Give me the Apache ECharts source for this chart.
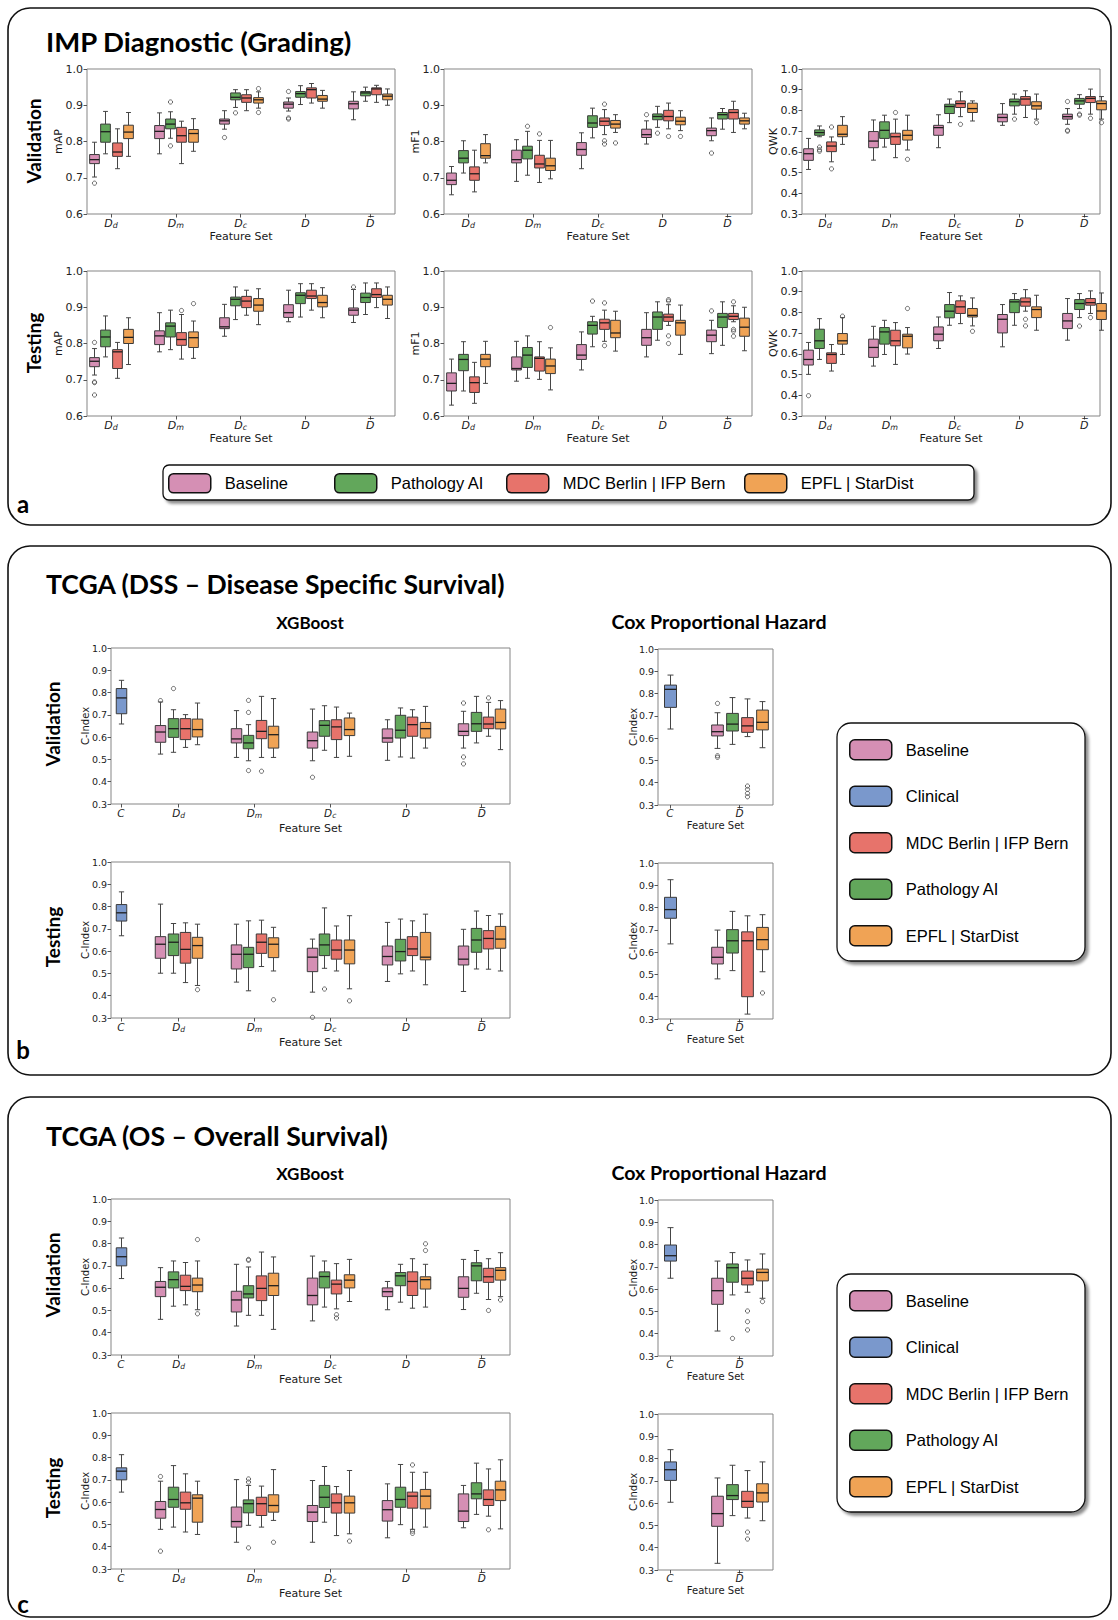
<!DOCTYPE html>
<html>
<head>
<meta charset="utf-8">
<title>IMP / TCGA benchmark boxplots</title>
<script src="https://cdn.jsdelivr.net/npm/echarts@6/dist/echarts.min.js"></script>
<style>
html,body{margin:0;padding:0;background:#ffffff;}
#chart{width:1118px;height:1620px;}
</style>
</head>
<body>
<div id="chart"></div>
<script>
// ---------------- categories / tick labels ----------------
const featureSets = ['Dd', 'Dm', 'Dc', 'D', 'Dbar'];
const clinicalSet = ['C'];
const coxSet = ['Dbar'];
const gradingModels = ['Baseline', 'Pathology AI', 'MDC Berlin | IFP Bern', 'EPFL | StarDist'];
const survivalLegend = ['Baseline', 'Clinical', 'MDC Berlin | IFP Bern', 'Pathology AI', 'EPFL | StarDist'];

// each entry: [min, q1, median, q3, max, [outliers]]
// ---------------- (a) IMP Diagnostic – Validation ----------------
const aValMapBaseline = [[0.702,0.739,0.750,0.764,0.798,[0.685]],[0.766,0.808,0.828,0.844,0.879,[]],[0.834,0.848,0.857,0.862,0.885,[0.811]],[0.884,0.892,0.903,0.909,0.920,[0.938,0.865,0.862]],[0.860,0.890,0.904,0.911,0.937,[]]];
const aValMapPathAI   = [[0.766,0.798,0.827,0.848,0.883,[]],[0.809,0.835,0.848,0.862,0.882,[0.909,0.788]],[0.894,0.915,0.922,0.934,0.943,[0.879]],[0.902,0.922,0.932,0.938,0.954,[]],[0.911,0.926,0.934,0.938,0.950,[]]];
const aValMapMDC      = [[0.725,0.759,0.771,0.796,0.835,[]],[0.739,0.798,0.816,0.839,0.856,[]],[0.885,0.908,0.920,0.929,0.943,[]],[0.906,0.920,0.943,0.948,0.960,[]],[0.908,0.929,0.945,0.948,0.955,[]]];
const aValMapEPFL     = [[0.759,0.808,0.826,0.845,0.880,[]],[0.773,0.798,0.822,0.833,0.863,[]],[0.892,0.906,0.915,0.921,0.937,[0.946,0.880]],[0.892,0.911,0.917,0.927,0.941,[]],[0.900,0.915,0.925,0.931,0.945,[]]];

const aValMf1Baseline = [[0.653,0.681,0.693,0.713,0.731,[]],[0.690,0.741,0.750,0.776,0.805,[]],[0.725,0.762,0.778,0.797,0.824,[]],[0.793,0.811,0.819,0.834,0.857,[0.874]],[0.802,0.816,0.830,0.837,0.865,[0.768]]];
const aValMf1PathAI   = [[0.713,0.741,0.754,0.775,0.802,[]],[0.707,0.752,0.776,0.787,0.828,[0.842]],[0.810,0.839,0.851,0.871,0.892,[]],[0.839,0.860,0.869,0.876,0.897,[0.823]],[0.834,0.862,0.874,0.880,0.891,[]]];
const aValMf1MDC      = [[0.661,0.693,0.711,0.730,0.776,[]],[0.687,0.727,0.738,0.762,0.803,[0.821]],[0.819,0.844,0.856,0.865,0.888,[0.903,0.802,0.793]],[0.835,0.857,0.869,0.886,0.906,[0.814]],[0.825,0.862,0.880,0.888,0.911,[]]];
const aValMf1EPFL     = [[0.741,0.754,0.761,0.794,0.819,[]],[0.697,0.720,0.733,0.754,0.803,[]],[0.825,0.837,0.848,0.858,0.874,[0.796]],[0.830,0.846,0.856,0.867,0.885,[0.814]],[0.835,0.848,0.857,0.865,0.878,[]]];

const aValQwkBaseline = [[0.515,0.559,0.591,0.615,0.665,[]],[0.560,0.620,0.652,0.698,0.754,[]],[0.620,0.680,0.717,0.728,0.779,[]],[0.728,0.745,0.766,0.782,0.833,[]],[0.733,0.758,0.770,0.782,0.809,[0.843,0.704,0.700]]];
const aValQwkPathAI   = [[0.673,0.680,0.693,0.706,0.725,[0.623,0.610,0.603]],[0.623,0.665,0.704,0.745,0.777,[]],[0.741,0.785,0.819,0.830,0.855,[]],[0.782,0.822,0.842,0.855,0.879,[0.758]],[0.809,0.830,0.846,0.858,0.876,[0.782,0.777]]];
const aValQwkMDC      = [[0.552,0.601,0.628,0.648,0.672,[0.720,0.518]],[0.572,0.636,0.673,0.690,0.758,[0.790]],[0.770,0.814,0.833,0.846,0.890,[0.733]],[0.766,0.825,0.855,0.867,0.895,[]],[0.782,0.838,0.858,0.867,0.903,[0.762]]];
const aValQwkEPFL     = [[0.636,0.673,0.685,0.728,0.770,[]],[0.609,0.657,0.680,0.704,0.777,[0.564]],[0.749,0.790,0.809,0.835,0.846,[]],[0.758,0.806,0.822,0.842,0.879,[0.741]],[0.758,0.803,0.833,0.846,0.867,[0.741]]];

// ---------------- (a) IMP Diagnostic – Testing ----------------
const aTestMapBaseline = [[0.713,0.736,0.751,0.761,0.786,[0.803,0.694,0.692,0.658]],[0.777,0.797,0.821,0.835,0.885,[]],[0.820,0.841,0.846,0.871,0.908,[]],[0.860,0.872,0.885,0.907,0.947,[]],[0.858,0.878,0.892,0.898,0.949,[0.956]]];
const aTestMapPathAI   = [[0.763,0.791,0.818,0.837,0.876,[]],[0.783,0.818,0.848,0.857,0.892,[]],[0.866,0.904,0.922,0.928,0.956,[]],[0.873,0.910,0.933,0.940,0.965,[]],[0.880,0.913,0.927,0.939,0.967,[]]];
const aTestMapMDC      = [[0.704,0.731,0.777,0.783,0.803,[]],[0.757,0.795,0.811,0.830,0.880,[0.891]],[0.878,0.899,0.917,0.930,0.947,[]],[0.892,0.924,0.931,0.947,0.965,[]],[0.899,0.927,0.935,0.951,0.967,[]]];
const aTestMapEPFL     = [[0.742,0.800,0.817,0.839,0.871,[]],[0.759,0.789,0.816,0.832,0.862,[0.910]],[0.852,0.889,0.906,0.924,0.951,[]],[0.871,0.901,0.913,0.933,0.954,[]],[0.869,0.906,0.922,0.933,0.956,[]]];

const aTestMf1Baseline = [[0.630,0.669,0.690,0.719,0.757,[]],[0.696,0.727,0.731,0.763,0.806,[]],[0.727,0.756,0.768,0.797,0.832,[]],[0.763,0.795,0.816,0.839,0.885,[]],[0.772,0.805,0.823,0.837,0.864,[0.890]]];
const aTestMf1PathAI   = [[0.669,0.725,0.756,0.770,0.805,[]],[0.704,0.734,0.768,0.789,0.821,[]],[0.791,0.826,0.850,0.860,0.875,[0.917]],[0.809,0.839,0.873,0.887,0.915,[]],[0.795,0.844,0.873,0.883,0.915,[]]];
const aTestMf1MDC      = [[0.635,0.665,0.692,0.708,0.748,[]],[0.701,0.724,0.759,0.763,0.805,[]],[0.806,0.839,0.857,0.867,0.892,[0.912,0.794]],[0.850,0.861,0.873,0.881,0.907,[0.921,0.917,0.821,0.800]],[0.860,0.866,0.875,0.883,0.904,[0.915,0.839,0.834,0.820]]];
const aTestMf1EPFL     = [[0.690,0.736,0.757,0.770,0.806,[]],[0.672,0.717,0.738,0.757,0.788,[0.844]],[0.779,0.816,0.829,0.864,0.889,[]],[0.770,0.823,0.857,0.864,0.906,[]],[0.780,0.820,0.845,0.870,0.900,[]]];

const aTestQwkBaseline = [[0.501,0.546,0.573,0.618,0.655,[0.398]],[0.541,0.583,0.631,0.671,0.733,[]],[0.626,0.663,0.695,0.730,0.778,[]],[0.634,0.701,0.767,0.790,0.838,[]],[0.666,0.722,0.759,0.795,0.867,[]]];
const aTestQwkPathAI   = [[0.573,0.626,0.663,0.719,0.770,[]],[0.597,0.647,0.706,0.727,0.762,[]],[0.738,0.774,0.806,0.838,0.896,[]],[0.738,0.799,0.851,0.862,0.891,[]],[0.775,0.814,0.843,0.862,0.891,[0.734]]];
const aTestQwkMDC      = [[0.517,0.554,0.597,0.605,0.645,[]],[0.549,0.639,0.663,0.714,0.751,[]],[0.746,0.795,0.827,0.856,0.880,[]],[0.806,0.830,0.851,0.870,0.910,[0.767,0.735]],[0.795,0.835,0.847,0.867,0.904,[0.775]]];
const aTestQwkEPFL     = [[0.597,0.647,0.663,0.698,0.775,[0.782]],[0.599,0.629,0.685,0.695,0.727,[0.819]],[0.735,0.778,0.786,0.819,0.870,[0.709]],[0.714,0.775,0.814,0.827,0.883,[]],[0.714,0.766,0.807,0.843,0.894,[]]];

// ---------------- (b) TCGA DSS ----------------
const bValXgbClinical = [[0.659,0.705,0.776,0.818,0.855,[]]];
const bValXgbBaseline = [[0.524,0.577,0.623,0.652,0.758,[0.764]],[0.509,0.574,0.592,0.638,0.719,[]],[0.494,0.551,0.584,0.623,0.726,[0.420]],[0.496,0.577,0.596,0.637,0.678,[]],[0.551,0.607,0.626,0.660,0.716,[0.753,0.511,0.480]]];
const bValXgbPathAI   = [[0.532,0.599,0.638,0.683,0.723,[0.818]],[0.494,0.548,0.574,0.608,0.656,[0.765,0.711,0.450]],[0.541,0.604,0.653,0.674,0.741,[]],[0.511,0.596,0.631,0.698,0.731,[]],[0.574,0.626,0.660,0.711,0.783,[]]];
const bValXgbMDC      = [[0.554,0.589,0.638,0.683,0.701,[]],[0.509,0.593,0.626,0.675,0.783,[0.447]],[0.509,0.589,0.646,0.678,0.735,[]],[0.506,0.604,0.656,0.690,0.723,[]],[0.604,0.638,0.659,0.690,0.756,[0.776]]];
const bValXgbEPFL     = [[0.566,0.601,0.634,0.681,0.753,[]],[0.509,0.551,0.611,0.649,0.773,[]],[0.514,0.607,0.634,0.686,0.708,[]],[0.551,0.596,0.638,0.666,0.738,[]],[0.544,0.637,0.666,0.726,0.764,[]]];

const bTestXgbClinical = [[0.669,0.735,0.772,0.809,0.866,[]]];
const bTestXgbBaseline = [[0.501,0.568,0.631,0.665,0.811,[]],[0.461,0.520,0.586,0.628,0.721,[]],[0.416,0.508,0.573,0.613,0.654,[0.303]],[0.464,0.538,0.576,0.623,0.729,[]],[0.419,0.538,0.564,0.623,0.698,[]]];
const bTestXgbPathAI   = [[0.501,0.580,0.640,0.677,0.724,[]],[0.422,0.526,0.586,0.617,0.736,[]],[0.523,0.580,0.628,0.677,0.794,[0.430]],[0.498,0.556,0.598,0.653,0.744,[]],[0.520,0.595,0.650,0.702,0.780,[]]];
const bTestXgbMDC      = [[0.459,0.546,0.608,0.684,0.727,[]],[0.531,0.590,0.640,0.677,0.739,[]],[0.511,0.564,0.605,0.650,0.713,[]],[0.511,0.580,0.610,0.665,0.736,[]],[0.519,0.610,0.657,0.692,0.760,[]]];
const bTestXgbEPFL     = [[0.446,0.568,0.625,0.662,0.721,[0.427]],[0.511,0.571,0.631,0.660,0.707,[0.382]],[0.431,0.543,0.605,0.650,0.759,[0.377]],[0.449,0.561,0.573,0.684,0.766,[]],[0.511,0.613,0.654,0.711,0.767,[]]];

const bValCoxClinical = [[0.641,0.738,0.819,0.838,0.883,[]]];
const bValCoxBaseline = [[0.554,0.610,0.629,0.659,0.714,[0.756,0.521,0.514]]];
const bValCoxPathAI   = [[0.572,0.632,0.663,0.711,0.782,[]]];
const bValCoxMDC      = [[0.607,0.626,0.655,0.692,0.776,[0.385,0.370,0.352,0.337]]];
const bValCoxEPFL     = [[0.557,0.637,0.671,0.726,0.764,[]]];

const bTestCoxClinical = [[0.637,0.752,0.791,0.846,0.925,[]]];
const bTestCoxBaseline = [[0.480,0.547,0.577,0.622,0.699,[]]];
const bTestCoxPathAI   = [[0.517,0.596,0.651,0.701,0.783,[]]];
const bTestCoxMDC      = [[0.322,0.400,0.651,0.691,0.763,[]]];
const bTestCoxEPFL     = [[0.512,0.611,0.656,0.711,0.768,[0.417]]];

// ---------------- (c) TCGA OS ----------------
const cValXgbClinical = [[0.643,0.700,0.741,0.781,0.825,[]]];
const cValXgbBaseline = [[0.460,0.562,0.604,0.630,0.692,[]],[0.430,0.493,0.547,0.586,0.707,[]],[0.453,0.525,0.567,0.645,0.744,[]],[0.503,0.562,0.584,0.601,0.630,[]],[0.504,0.559,0.599,0.651,0.729,[]]];
const cValXgbPathAI   = [[0.519,0.601,0.638,0.673,0.722,[]],[0.478,0.556,0.574,0.611,0.695,[0.729,0.725]],[0.515,0.601,0.652,0.673,0.722,[]],[0.537,0.611,0.655,0.670,0.707,[]],[0.577,0.633,0.700,0.714,0.769,[]]];
const cValXgbMDC      = [[0.525,0.589,0.608,0.658,0.715,[]],[0.478,0.544,0.599,0.655,0.762,[]],[0.507,0.574,0.618,0.636,0.710,[0.481,0.466]],[0.510,0.567,0.630,0.673,0.732,[]],[0.549,0.626,0.651,0.689,0.732,[0.500]]];
const cValXgbEPFL     = [[0.503,0.584,0.614,0.645,0.722,[0.818,0.485]],[0.415,0.567,0.611,0.667,0.740,[]],[0.540,0.601,0.636,0.660,0.729,[]],[0.515,0.596,0.638,0.651,0.707,[0.799,0.769]],[0.562,0.636,0.680,0.692,0.759,[0.547]]];

const cTestXgbClinical = [[0.645,0.700,0.739,0.754,0.813,[]]];
const cTestXgbBaseline = [[0.478,0.528,0.567,0.603,0.694,[0.715,0.380]],[0.420,0.488,0.513,0.578,0.701,[]],[0.420,0.513,0.555,0.585,0.697,[]],[0.440,0.515,0.566,0.607,0.682,[]],[0.485,0.513,0.560,0.637,0.675,[]]];
const cTestXgbPathAI   = [[0.488,0.577,0.612,0.667,0.764,[]],[0.496,0.552,0.593,0.610,0.675,[0.704,0.690,0.395]],[0.510,0.576,0.622,0.675,0.760,[]],[0.499,0.577,0.612,0.667,0.769,[]],[0.545,0.615,0.637,0.687,0.775,[]]];
const cTestXgbMDC      = [[0.466,0.568,0.597,0.645,0.727,[]],[0.488,0.540,0.593,0.622,0.672,[]],[0.450,0.551,0.597,0.637,0.670,[]],[0.478,0.573,0.627,0.645,0.734,[0.779,0.767,0.470,0.460]],[0.537,0.585,0.612,0.655,0.749,[0.476]]];
const cTestXgbEPFL     = [[0.455,0.510,0.618,0.633,0.694,[]],[0.518,0.555,0.585,0.633,0.746,[0.420]],[0.458,0.551,0.597,0.627,0.742,[0.425]],[0.488,0.570,0.627,0.657,0.734,[]],[0.480,0.607,0.655,0.694,0.790,[]]];

const cValCoxClinical = [[0.649,0.726,0.750,0.798,0.876,[]]];
const cValCoxBaseline = [[0.412,0.532,0.593,0.649,0.726,[]]];
const cValCoxPathAI   = [[0.574,0.631,0.696,0.713,0.764,[0.379]]];
const cValCoxMDC      = [[0.586,0.619,0.649,0.681,0.731,[0.502,0.454,0.417]]];
const cValCoxEPFL     = [[0.559,0.637,0.675,0.690,0.758,[0.544]]];

const cTestCoxClinical = [[0.604,0.702,0.750,0.785,0.840,[]]];
const cTestCoxBaseline = [[0.330,0.496,0.553,0.631,0.713,[]]];
const cTestCoxPathAI   = [[0.544,0.616,0.634,0.683,0.770,[]]];
const cTestCoxMDC      = [[0.533,0.581,0.608,0.653,0.746,[0.470,0.439]]];
const cTestCoxEPFL     = [[0.521,0.605,0.646,0.687,0.785,[]]];

// ---------------- styling ----------------
const modelColors = {
  'Baseline': '#d58fb4',
  'Clinical': '#7a98cc',
  'MDC Berlin | IFP Bern': '#e7736b',
  'Pathology AI': '#62a75b',
  'EPFL | StarDist': '#f0a355'
};
const FONT = 'DejaVu Sans';
const TITLE_FONT = 'Lato';
const LEGEND_FONT = 'Liberation Sans';

const catRich = {
  C: '{i|C}', Dd: '{i|D}{s|d}', Dm: '{i|D}{s|m}', Dc: '{i|D}{s|c}', D: '{i|D}', Dbar: '{i|D\u0305}'
};

const option = {
  animation: false,
  backgroundColor: '#ffffff',
  textStyle: { fontFamily: FONT },
  grid: [], xAxis: [], yAxis: [], series: [], legend: [], graphic: []
};

function boxRenderer(src, slot, nSlots, pitch, boxW, color) {
  return function (params, api) {
    const cat = api.value(0);
    const px = api.coord([cat, api.value(3)]);
    const cx = Math.round(px[0] + (slot - (nSlots - 1) / 2) * pitch) + 0.5;
    const yy = v => api.coord([cat, v])[1];
    const yMin = yy(api.value(1)), yQ1 = yy(api.value(2)), yMed = yy(api.value(3));
    const yQ3 = yy(api.value(4)), yMax = yy(api.value(5));
    const half = boxW / 2, cap = boxW / 4;
    const ls = { stroke: '#454545', lineWidth: 1 };
    const kids = [
      { type: 'line', shape: { x1: cx, y1: yQ1, x2: cx, y2: yMin }, style: ls },
      { type: 'line', shape: { x1: cx, y1: yQ3, x2: cx, y2: yMax }, style: ls },
      { type: 'line', shape: { x1: cx - cap, y1: yMin, x2: cx + cap, y2: yMin }, style: ls },
      { type: 'line', shape: { x1: cx - cap, y1: yMax, x2: cx + cap, y2: yMax }, style: ls },
      { type: 'rect', shape: { x: cx - half, y: yQ3, width: boxW, height: yQ1 - yQ3 },
        style: { fill: color, stroke: '#3a3a3a', lineWidth: 1 } },
      { type: 'line', shape: { x1: cx - half, y1: yMed, x2: cx + half, y2: yMed },
        style: { stroke: '#1e1e1e', lineWidth: 1.3 } }
    ];
    (src[params.dataIndex][5] || []).forEach(v => {
      kids.push({ type: 'circle', shape: { cx: cx, cy: yy(v), r: 2.1 },
        style: { fill: 'none', stroke: '#555', lineWidth: 0.9 } });
    });
    return { type: 'group', children: kids };
  };
}

function addFrame(f) {
  const gi = option.grid.length;
  option.grid.push({ left: f.left, top: f.top, width: f.width, height: f.height, show: true,
    borderColor: '#858585', borderWidth: 1, backgroundColor: 'rgba(0,0,0,0)', outerBoundsMode: 'none' });
  option.xAxis.push({ gridIndex: gi, type: 'value', min: 0, max: 1,
    axisLine: { show: false }, axisTick: { show: false }, axisLabel: { show: false }, splitLine: { show: false },
    name: 'Feature Set', nameLocation: 'middle', nameGap: f.xNameGap, nameMoveOverlap: false,
    nameTextStyle: { fontSize: f.nameSize, color: '#1a1a1a', fontFamily: FONT, lineHeight: f.nameSize + 1 } });
  option.yAxis.push({ gridIndex: gi, type: 'value', min: f.yMin, max: 1.0, interval: 0.1,
    axisLine: { show: false }, axisTick: { show: true, length: 3.5, lineStyle: { color: '#555', width: 1 } },
    axisLabel: { fontSize: f.tickSize, color: '#222', margin: 4, fontFamily: FONT, formatter: v => v.toFixed(1) },
    splitLine: { show: false },
    name: f.yName, nameLocation: 'middle', nameGap: f.yNameGap, nameMoveOverlap: false,
    nameTextStyle: { fontSize: f.ySize, color: '#1a1a1a', fontFamily: FONT } });
}

function addGroup(f, g) {
  const gi = option.grid.length;
  const n = g.cats.length;
  option.grid.push({ left: g.first - g.spacing / 2, top: f.top, width: g.spacing * n, height: f.height,
    show: false, outerBoundsMode: 'none' });
  const xi = option.xAxis.length;
  const cs = f.catSize;
  option.xAxis.push({ gridIndex: gi, type: 'category', data: g.cats, boundaryGap: true,
    axisLine: { show: false },
    axisTick: { show: true, alignWithLabel: true, length: 3.5, lineStyle: { color: '#555', width: 1 } },
    axisLabel: { interval: 0, margin: f.labelMargin, formatter: v => catRich[v],
      rich: {
        i: { fontStyle: 'italic', fontSize: cs, fontFamily: FONT, color: '#222', lineHeight: f.catLH },
        s: { fontStyle: 'italic', fontSize: cs * 0.72, fontFamily: FONT, color: '#222', lineHeight: cs * 0.72, verticalAlign: 'bottom' }
      } },
    splitLine: { show: false } });
  const yi = option.yAxis.length;
  option.yAxis.push({ gridIndex: gi, type: 'value', min: f.yMin, max: 1.0, show: false });
  g.series.forEach(s => {
    const color = modelColors[s.name];
    option.series.push({
      type: 'custom', name: s.name, coordinateSystem: 'cartesian2d', xAxisIndex: xi, yAxisIndex: yi,
      itemStyle: { color: color }, encode: { x: 0, y: [1, 2, 3, 4, 5] },
      data: s.data.map((d, i) => [i, d[0], d[1], d[2], d[3], d[4]]),
      renderItem: boxRenderer(s.data, s.slot, s.nSlots, f.pitch, s.boxW || f.boxW, color)
    });
  });
}

// ---------------- panel (a) ----------------
const gradingStyle = { pitch: 11.3, boxW: 9.7, tickSize: 11, nameSize: 11, ySize: 11, catSize: 11, catLH: 12,
  xNameGap: 16.5, yNameGap: 23, labelMargin: 3 };
const gradingPlots = [
  { left: 87,  top: 69,  width: 308, first: 111,   yName: 'mAP', yMin: 0.6, sets: [aValMapBaseline, aValMapPathAI, aValMapMDC, aValMapEPFL] },
  { left: 444, top: 69,  width: 308, first: 468.3, yName: 'mF1', yMin: 0.6, sets: [aValMf1Baseline, aValMf1PathAI, aValMf1MDC, aValMf1EPFL] },
  { left: 802, top: 69,  width: 298, first: 825,   yName: 'QWK', yMin: 0.3, sets: [aValQwkBaseline, aValQwkPathAI, aValQwkMDC, aValQwkEPFL] },
  { left: 87,  top: 271, width: 308, first: 111,   yName: 'mAP', yMin: 0.6, sets: [aTestMapBaseline, aTestMapPathAI, aTestMapMDC, aTestMapEPFL] },
  { left: 444, top: 271, width: 308, first: 468.3, yName: 'mF1', yMin: 0.6, sets: [aTestMf1Baseline, aTestMf1PathAI, aTestMf1MDC, aTestMf1EPFL] },
  { left: 802, top: 271, width: 298, first: 825,   yName: 'QWK', yMin: 0.3, sets: [aTestQwkBaseline, aTestQwkPathAI, aTestQwkMDC, aTestQwkEPFL] }
];
gradingPlots.forEach(p => {
  const f = Object.assign({}, gradingStyle, { left: p.left, top: p.top, width: p.width, height: 145, yName: p.yName, yMin: p.yMin });
  addFrame(f);
  addGroup(f, { cats: featureSets, first: p.first, spacing: 64.8,
    series: p.sets.map((d, k) => ({ name: gradingModels[k], data: d, slot: k, nSlots: 4 })) });
});

// ---------------- panels (b) and (c) ----------------
const xgbStyle = { pitch: 12.4, boxW: 10.5, tickSize: 9.5, nameSize: 11, ySize: 10, catSize: 10.5, catLH: 12,
  xNameGap: 18.5, yNameGap: 21, labelMargin: 3 };
const coxStyle = { pitch: 15, boxW: 11.7, tickSize: 9.5, nameSize: 10, ySize: 10, catSize: 10.5, catLH: 11,
  xNameGap: 14.5, yNameGap: 20, labelMargin: 2 };

const survivalPlots = [
  { top: 648,  xgb: [bValXgbClinical, bValXgbBaseline, bValXgbPathAI, bValXgbMDC, bValXgbEPFL],
               cox: [bValCoxClinical, bValCoxBaseline, bValCoxPathAI, bValCoxMDC, bValCoxEPFL] },
  { top: 862,  xgb: [bTestXgbClinical, bTestXgbBaseline, bTestXgbPathAI, bTestXgbMDC, bTestXgbEPFL],
               cox: [bTestCoxClinical, bTestCoxBaseline, bTestCoxPathAI, bTestCoxMDC, bTestCoxEPFL] },
  { top: 1199, xgb: [cValXgbClinical, cValXgbBaseline, cValXgbPathAI, cValXgbMDC, cValXgbEPFL],
               cox: [cValCoxClinical, cValCoxBaseline, cValCoxPathAI, cValCoxMDC, cValCoxEPFL] },
  { top: 1413, xgb: [cTestXgbClinical, cTestXgbBaseline, cTestXgbPathAI, cTestXgbMDC, cTestXgbEPFL],
               cox: [cTestCoxClinical, cTestCoxBaseline, cTestCoxPathAI, cTestCoxMDC, cTestCoxEPFL] }
];
survivalPlots.forEach(p => {
  const fx = Object.assign({}, xgbStyle, { left: 111, top: p.top, width: 399, height: 156, yName: 'C-Index', yMin: 0.3 });
  addFrame(fx);
  addGroup(fx, { cats: clinicalSet, first: 121, spacing: 20,
    series: [{ name: 'Clinical', data: p.xgb[0], slot: 0, nSlots: 1 }] });
  addGroup(fx, { cats: featureSets, first: 178.7, spacing: 75.75,
    series: p.xgb.slice(1).map((d, k) => ({ name: gradingModels[k], data: d, slot: k, nSlots: 4 })) });

  const fc = Object.assign({}, coxStyle, { left: 658, top: p.top + 1, width: 115, height: 156, yName: 'C-Index', yMin: 0.3 });
  addFrame(fc);
  addGroup(fc, { cats: clinicalSet, first: 670, spacing: 20,
    series: [{ name: 'Clinical', data: p.cox[0], slot: 0, nSlots: 1, boxW: 12 }] });
  addGroup(fc, { cats: coxSet, first: 739.5, spacing: 20,
    series: p.cox.slice(1).map((d, k) => ({ name: gradingModels[k], data: d, slot: k, nSlots: 4 })) });
});

// ---------------- legends ----------------
const legendText = { fontFamily: LEGEND_FONT, fontSize: 16.5, color: '#000', padding: [0, 0, 0, 9], lineHeight: 20 };
[168, 334, 506, 744].forEach((x, k) => {
  option.legend.push({ data: [gradingModels[k]], left: x, top: 473, padding: 0, itemWidth: 42, itemHeight: 19,
    icon: 'roundRect', selectedMode: false, textStyle: legendText,
    itemStyle: { borderColor: '#111', borderWidth: 1.5 } });
});
[739, 1290].forEach(t => {
  option.legend.push({ data: survivalLegend, left: 849, top: t, orient: 'vertical', padding: 0,
    itemWidth: 42, itemHeight: 20, itemGap: 25, icon: 'roundRect', selectedMode: false,
    textStyle: legendText, itemStyle: { borderColor: '#111', borderWidth: 1.5 } });
});

// ---------------- decorations (frames, titles) ----------------
const g = option.graphic;
function panelBox(y, h) {
  g.push({ type: 'rect', z: 0, shape: { x: 8, y: y, width: 1103, height: h, r: 22 },
    style: { fill: 'none', stroke: '#111', lineWidth: 1.6 } });
}
panelBox(8, 517); panelBox(546, 529); panelBox(1097, 520);
function legendBox(x, y, w, h, r) {
  g.push({ type: 'rect', z: 1, shape: { x: x, y: y, width: w, height: h, r: r },
    style: { fill: '#fff', stroke: '#111', lineWidth: 1.3, shadowBlur: 3, shadowOffsetX: 3, shadowOffsetY: 3,
      shadowColor: 'rgba(0,0,0,0.45)' } });
}
legendBox(163, 465, 811, 35, 6);
legendBox(837, 723, 248, 238, 14);
legendBox(837, 1274, 248, 238, 14);

function text(t, x, y, size, opts) {
  g.push(Object.assign({ type: 'text', z: 5, x: x, y: y,
    style: { text: t, font: 'bold ' + size + 'px ' + TITLE_FONT, fill: '#000',
      textAlign: (opts && opts.align) || 'left', textVerticalAlign: 'middle' } }, (opts && opts.extra) || {}));
}
text('IMP Diagnostic (Grading)', 46, 41, 27.5);
text('TCGA (DSS \u2013 Disease Specific Survival)', 46, 584, 27, { extra: { scaleX: 0.985 } });
text('TCGA (OS \u2013 Overall Survival)', 46, 1135, 27, { extra: { scaleX: 0.99 } });
[622, 1173].forEach(y => {
  text('XGBoost', 310, y, 17, { align: 'center' });
  text('Cox Proportional Hazard', 719, y, 18, { align: 'center', extra: { scaleX: 1.09 } });
});
function rowLabel(t, x, y) {
  text(t, x, y, 19, { align: 'center', extra: { rotation: Math.PI / 2 } });
}
rowLabel('Validation', 33, 141); rowLabel('Testing', 33, 343);
rowLabel('Validation', 52, 724); rowLabel('Testing', 52, 937);
rowLabel('Validation', 52, 1275); rowLabel('Testing', 52, 1488);
text('a', 23, 503, 24, { align: 'center' });
text('b', 23, 1049, 24, { align: 'center' });
text('c', 23, 1603, 24, { align: 'center' });

const chart = echarts.init(document.getElementById('chart'), null, { renderer: 'svg', width: 1118, height: 1620 });
chart.setOption(option);
</script>
</body>
</html>
